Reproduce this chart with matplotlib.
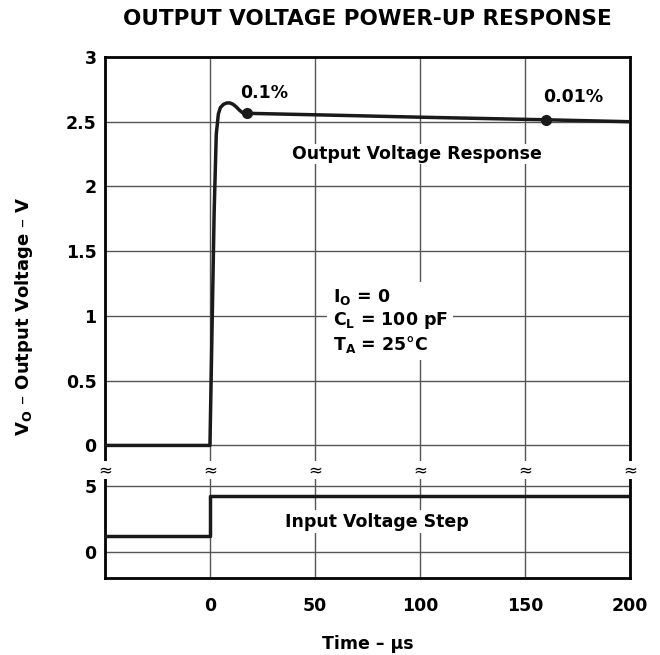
import matplotlib
matplotlib.use('Agg')
import matplotlib.pyplot as plt

plt.rcParams['font.family'] = ['DejaVu Sans']
plt.rcParams['font.weight'] = 'bold'
plt.rcParams['mathtext.default'] = 'regular'

# output voltage power-up response (time in us, volts)
t_out = [-50, 0, 1, 2, 3, 4, 5, 6.5, 8, 9.5, 11, 12.5, 14, 15.5, 17.5, 60, 100, 160, 200]
v_out = [0, 0, 0.9, 1.8, 2.4, 2.56, 2.61, 2.635, 2.645, 2.645, 2.635, 2.615, 2.59, 2.57, 2.565, 2.55, 2.535, 2.515, 2.5]
# marked points on the response
t_mark = [17.5, 160]
v_mark = [2.565, 2.515]
mark_labels = ['0.1%', '0.01%']

# input voltage step
t_in = [-50, 0, 0, 200]
v_in = [1.2, 1.2, 4.2, 4.2]

x_ticks = [0, 50, 100, 150, 200]
y_ticks_top = [0, 0.5, 1, 1.5, 2, 2.5, 3]
y_tick_labels_top = ['0', '0.5', '1', '1.5', '2', '2.5', '3']
y_ticks_bot = [0, 5]

fs = 12.5

fig = plt.figure(figsize=(6.6, 6.55), dpi=100)
ax = fig.add_axes([0.159, 0.2824, 0.7955, 0.6306])
ax2 = fig.add_axes([0.159, 0.1176, 0.7955, 0.1648])

grid_kw = dict(color='#555555', lw=1.0)
for a in (ax, ax2):
    a.set_xlim(-50, 200)
    for s in a.spines.values():
        s.set_linewidth(2)
    a.tick_params(length=0, labelsize=fs, pad=6)
    for x in [0, 50, 100, 150]:
        a.axvline(x, zorder=0, **grid_kw)

ax.set_ylim(-0.19, 3)
ax.spines['bottom'].set_visible(False)
ax.set_xticks([])
ax.set_yticks(y_ticks_top)
ax.set_yticklabels(y_tick_labels_top)
for y in y_ticks_top[:-1]:
    ax.axhline(y, zorder=0, **grid_kw)

ax2.set_ylim(-1.97, 6.2)
ax2.spines['top'].set_visible(False)
ax2.set_yticks(y_ticks_bot)
ax2.set_xticks(x_ticks)
ax2.tick_params(axis='x', pad=14)
for y in y_ticks_bot:
    ax2.axhline(y, zorder=0, **grid_kw)

ax.plot(t_out, v_out, color='#1a1a1a', lw=2.5, solid_joinstyle='round', zorder=3)
ax.plot(t_mark, v_mark, 'o', color='#1a1a1a', ms=7, zorder=4)
ax.text(26, 2.72, mark_labels[0], ha='center', va='center', fontsize=fs)
ax.text(173, 2.69, mark_labels[1], ha='center', va='center', fontsize=fs)
ax.text(98.5, 2.25, 'Output Voltage Response', ha='center', va='center', fontsize=fs,
        bbox=dict(facecolor='white', edgecolor='none', pad=1))
ax.text(58.5, 0.96, 'I$_O$ = 0\nC$_L$ = 100 pF\nT$_A$ = 25°C', ha='left', va='center',
        fontsize=fs, linespacing=1.17, zorder=5,
        bbox=dict(facecolor='white', edgecolor='none', pad=4))

ax2.plot(t_in, v_in, color='#1a1a1a', lw=2.5, zorder=3)
ax2.text(79.5, 2.3, 'Input Voltage Step', ha='center', va='center', fontsize=fs,
         bbox=dict(facecolor='white', edgecolor='none', pad=2))

# break marks where the two panels meet
for x in [-50, 0, 50, 100, 150, 200]:
    ax2.text(x, 1.0, '≈', transform=ax2.get_xaxis_transform(), ha='center', va='center',
             fontsize=12, fontweight='normal', clip_on=False, zorder=6,
             bbox=dict(facecolor='white', edgecolor='none', pad=0))

ax2.set_xlabel('Time – µs', fontsize=fs, fontweight='bold', labelpad=14)
fig.text(0.037, 0.517, 'V$_O$ – Output Voltage – V', rotation=90, ha='center', va='center', fontsize=13)
fig.text(0.556, 0.971, 'OUTPUT VOLTAGE POWER-UP RESPONSE', ha='center', va='center', fontsize=15.5)

fig.savefig('out.png', dpi=100)
